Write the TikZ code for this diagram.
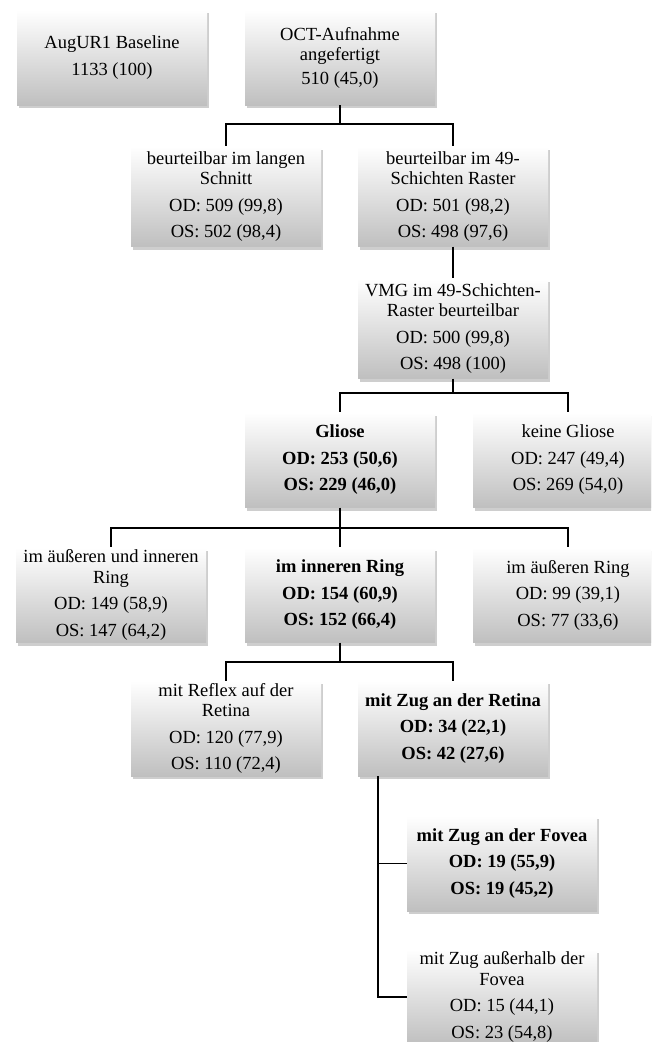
\documentclass[tikz,border=0pt]{standalone}
\usepackage{fontspec}
\setmainfont{Liberation Serif}
\usetikzlibrary{shadows}
\tikzset{
  box/.style={rectangle, minimum width=190pt, minimum height=95pt, inner sep=1pt,
    top color=white, bottom color=black!25, draw=none, align=center,
    font=\fontsize{18.5}{20.5}\selectfont,
    drop shadow={shadow xshift=1.5pt, shadow yshift=-3pt, fill=black!35, opacity=0.55}},
  tall/.style={minimum height=100pt},
  bbox/.style={box, font=\fontsize{18.5}{20.5}\selectfont\bfseries},
  conn/.style={draw=black, line width=1.6pt}
}
\begin{document}
\begin{tikzpicture}[x=1pt,y=-1pt]
\useasboundingbox[fill=white] (0,0) rectangle (651,1042);
\begin{scope}
\clip (0,0) rectangle (651,1042);
\node[box] (b1) at (112,57.5) {AugUR1 Baseline\\[6pt]1133 (100)};
\node[box] (b2) at (340,57.5) {OCT-Aufnahme\\angefertigt\\[3pt]510 (45,0)};
\node[box,tall] (b3) at (226,196.5) {beurteilbar im langen\\Schnitt\\[6pt]OD: 509 (99,8)\\[6pt]OS: 502 (98,4)};
\node[box,tall] (b4) at (453,196.5) {beurteilbar im 49-\\Schichten Raster\\[6pt]OD: 501 (98,2)\\[6pt]OS: 498 (97,6)};
\node[box,tall] (b5) at (453,328.5) {VMG im 49-Schichten-\\Raster beurteilbar\\[6pt]OD: 500 (99,8)\\[6pt]OS: 498 (100)};
\node[bbox] (gl) at (340,460) {Gliose\\[6pt]OD: 253 (50,6)\\[6pt]OS: 229 (46,0)};
\node[box] (kg) at (568,460) {keine Gliose\\[6pt]OD: 247 (49,4)\\[6pt]OS: 269 (54,0)};
\node[box] (r1) at (111,595) {im äußeren und inneren\\Ring\\[6pt]OD: 149 (58,9)\\[6pt]OS: 147 (64,2)};
\node[bbox] (r2) at (340,595) {im inneren Ring\\[6pt]OD: 154 (60,9)\\[6pt]OS: 152 (66,4)};
\node[box] (r3) at (568,595) {im äußeren Ring\\[6pt]OD: 99 (39,1)\\[6pt]OS: 77 (33,6)};
\node[box] (m1) at (226,728.5) {mit Reflex auf der\\Retina\\[6pt]OD: 120 (77,9)\\[6pt]OS: 110 (72,4)};
\node[bbox] (m2) at (453,728.5) {mit Zug an der Retina\\[6pt]OD: 34 (22,1)\\[6pt]OS: 42 (27,6)};
\node[bbox] (f1) at (502,863.5) {mit Zug an der Fovea\\[6pt]OD: 19 (55,9)\\[6pt]OS: 19 (45,2)};
\node[box] (f2) at (502,997) {mit Zug außerhalb der\\Fovea\\[6pt]OD: 15 (44,1)\\[6pt]OS: 23 (54,8)};
\end{scope}
\coordinate (j1) at (340,124);
\coordinate (j2) at (453,393);
\coordinate (j3) at (340,528);
\coordinate (j4) at (340,662);
\coordinate (t1) at ([xshift=-75pt]m2.south);
\draw[conn] (b2.south) -- (j1);
\draw[conn] (j1) -| (b3.north);
\draw[conn] (j1) -| (b4.north);
\draw[conn] (b4.south) -- (b5.north);
\draw[conn] (b5.south) -- (j2);
\draw[conn] (j2) -| (gl.north);
\draw[conn] (j2) -| (kg.north);
\draw[conn] (gl.south) -- (j3);
\draw[conn] (j3) -| (r1.north);
\draw[conn] (j3) -| (r3.north);
\draw[conn] (j3) -- (r2.north);
\draw[conn] (r2.south) -- (j4);
\draw[conn] (j4) -| (m1.north);
\draw[conn] (j4) -| (m2.north);
\draw[conn] (t1) |- (f1.west);
\draw[conn] (t1) |- (f2.west);
\end{tikzpicture}
\end{document}
